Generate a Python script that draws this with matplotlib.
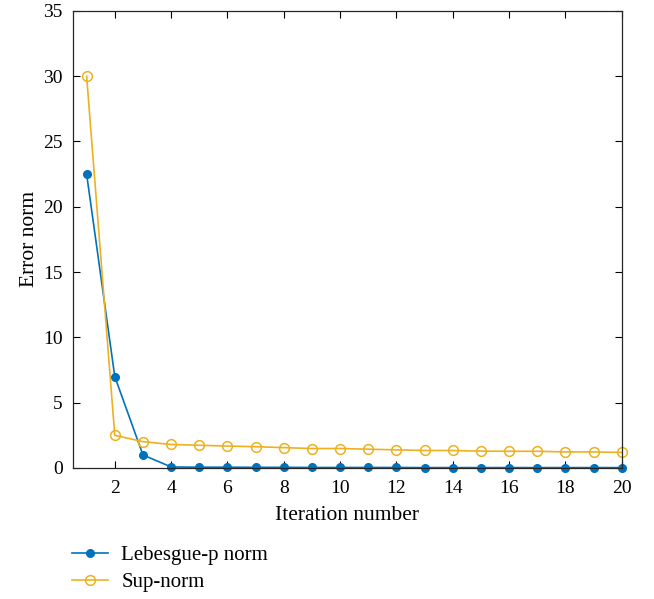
import numpy as np
import matplotlib.pyplot as plt

plt.rcParams['font.family'] = ['Liberation Serif', 'DejaVu Serif']

iterations = np.arange(1, 21)
lebesgue_p = [22.5, 7.0, 1.0, 0.08, 0.06, 0.06, 0.05, 0.05, 0.04, 0.04,
              0.04, 0.04, 0.03, 0.03, 0.03, 0.03, 0.03, 0.03, 0.03, 0.03]
sup_norm = [30.0, 2.5, 2.02, 1.8, 1.74, 1.68, 1.63, 1.56, 1.49, 1.49,
            1.44, 1.39, 1.34, 1.34, 1.29, 1.28, 1.28, 1.23, 1.23, 1.19]

fig = plt.figure(figsize=(6.54, 5.99), dpi=100)
ax = fig.add_axes([0.1109, 0.2187, 0.8398, 0.7634])

ax.plot(iterations, lebesgue_p, color='#0072BD', marker='o', markersize=5.5,
        linewidth=1.2, label='Lebesgue-p norm', clip_on=False)
ax.plot(iterations, sup_norm, color='#EDB120', marker='o', markersize=7,
        markerfacecolor='none', markeredgewidth=1.1, linewidth=1.2, label='Sup-norm',
        clip_on=False)

ax.set_xlim(0.5, 20)
ax.set_ylim(0, 35)
ax.set_xticks(np.arange(2, 21, 2))
ax.set_yticks(np.arange(0, 36, 5))
ax.tick_params(direction='in', top=True, right=True, labelsize=14, length=5, width=0.8)
ax.tick_params(axis='x', pad=9)
ax.tick_params(axis='y', pad=7)
for s in ax.spines.values():
    s.set_linewidth(0.9)
    s.set_color('#262626')
ax.set_xlabel('Iteration number', fontsize=15.5, labelpad=6)
ax.set_ylabel('Error norm', fontsize=15.5, labelpad=3)

fig.legend(loc='upper left', bbox_to_anchor=(0.082, 0.12), frameon=False,
           fontsize=15, handlelength=1.7, handletextpad=0.65, labelspacing=0.35)

fig.savefig('out.png', dpi=100)
